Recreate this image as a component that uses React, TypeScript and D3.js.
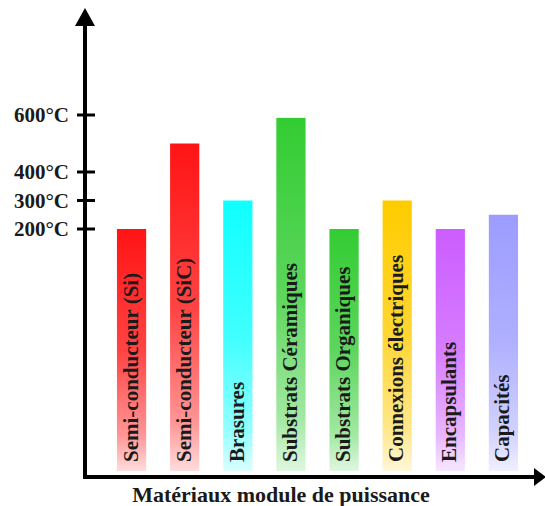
import React from "react";
import * as d3 from "d3";

const categories = [
  "Semi-conducteur (Si)",
  "Semi-conducteur (SiC)",
  "Brasures",
  "Substrats Céramiques",
  "Substrats Organiques",
  "Connexions électriques",
  "Encapsulants",
  "Capacités",
];
const temperatures = [200, 500, 300, 590, 200, 300, 200, 250];
const barColors = ["#ff1414", "#ff1414", "#10ffff", "#33cc33", "#33cc33", "#ffcc00", "#cc5cff", "#9c9cff"];
const tickValues = [200, 300, 400, 600];
const tickLabels = ["200°C", "300°C", "400°C", "600°C"];
const xTitle = "Matériaux module de puissance";

const W = 545;
const H = 506;
const axisX = 85;
const axisY = 477;
const barBottom = 471;

export default function App() {
  const y = d3.scaleLinear().domain([200, 600]).range([229, 115]);
  const x = d3
    .scaleBand<string>()
    .domain(categories)
    .range([105, 530])
    .paddingInner(0.45)
    .paddingOuter(0.225);
  const bw = x.bandwidth();
  const font = "'Liberation Serif', 'DejaVu Serif', serif";

  return (
    <svg
      width={W}
      height={H}
      style={{ position: "absolute", left: 0, top: 0, background: "#fff" }}
    >
      <defs>
        {barColors.map((c, i) => (
          <linearGradient key={i} id={`g${i}`} x1="0" y1="0" x2="0" y2="1">
            <stop offset="0" stopColor={c} />
            <stop offset="0.5" stopColor={d3.interpolateRgb(c, "#ffffff")(0.2)} />
            <stop offset="0.85" stopColor={d3.interpolateRgb(c, "#ffffff")(0.55)} />
            <stop offset="1" stopColor={d3.interpolateRgb(c, "#ffffff")(0.85)} />
          </linearGradient>
        ))}
      </defs>

      {categories.map((cat, i) => {
        const x0 = x(cat)!;
        const top = y(temperatures[i]);
        return (
          <g key={cat}>
            <rect
              x={x0}
              y={top}
              width={bw}
              height={barBottom - top}
              fill={`url(#g${i})`}
            />
            <text
              transform={`translate(${x0 + bw / 2 + 6},${462}) rotate(-90)`}
              fontFamily={font}
              fontWeight="bold"
              fontSize={21}
              fill="#1a1a1a"
            >
              {cat}
            </text>
          </g>
        );
      })}

      {/* Y axis */}
      <line x1={axisX} y1={20} x2={axisX} y2={axisY + 2} stroke="#000" strokeWidth={4} />
      <path d={`M${axisX},8 L${axisX - 10},26 L${axisX + 10},26 Z`} fill="#000" />
      {tickValues.map((v, i) => (
        <g key={v}>
          <line x1={axisX - 8} x2={axisX + 10} y1={y(v)} y2={y(v)} stroke="#000" strokeWidth={3} />
          <text
            x={69}
            y={y(v)}
            textAnchor="end"
            dominantBaseline="central"
            fontFamily={font}
            fontWeight="bold"
            fontSize={21}
            fill="#1a1a1a"
          >
            {tickLabels[i]}
          </text>
        </g>
      ))}

      {/* X axis */}
      <line x1={axisX - 2} y1={axisY} x2={536} y2={axisY} stroke="#000" strokeWidth={4} />
      <path d={`M546,${axisY} L534,${axisY - 9} L534,${axisY + 9} Z`} fill="#000" />
      <text
        x={281}
        y={502}
        textAnchor="middle"
        fontFamily={font}
        fontWeight="bold"
        fontSize={22}
        fill="#1a1a1a"
      >
        {xTitle}
      </text>
    </svg>
  );
}
